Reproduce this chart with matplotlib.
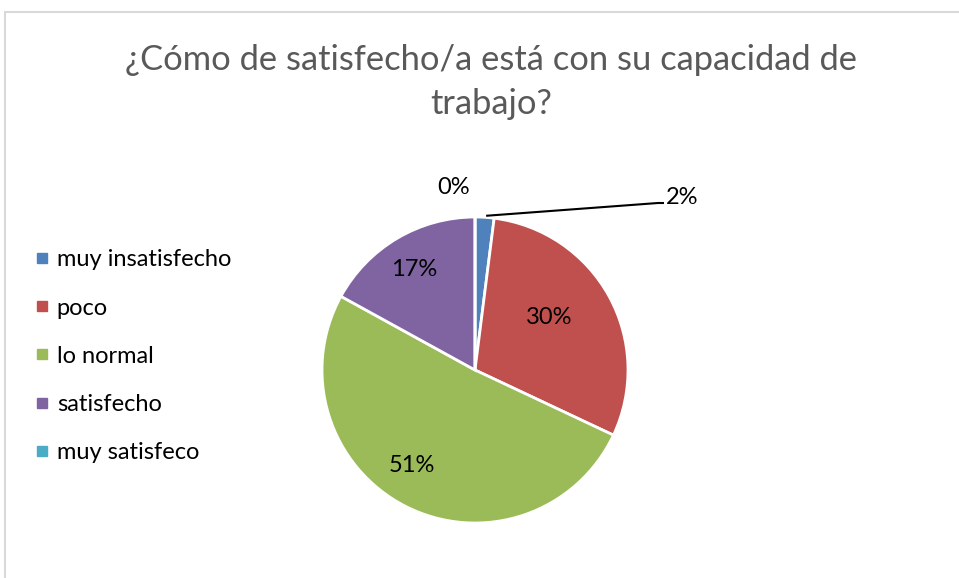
import numpy as np
import matplotlib.pyplot as plt
from matplotlib.lines import Line2D
from matplotlib.patches import Rectangle

# datos
categorias = ['muy insatisfecho', 'poco', 'lo normal', 'satisfecho', 'muy satisfeco']
porcentajes = [2, 30, 51, 17, 0]
colores = ['#4f81bd', '#c0504d', '#9bbb59', '#8064a2', '#4bacc6']
titulo = '¿Cómo de satisfecho/a está con su capacidad de\ntrabajo?'

plt.rcParams['font.family'] = ['Lato', 'DejaVu Sans']

W, H = 959, 578
fig = plt.figure(figsize=(W / 100, H / 100), dpi=100)
ax = fig.add_axes([0, 0, 1, 1])

# escala: 1 unidad = 153 px, centro del pastel en (475, 370) px
cx, cy, r_px = 475, 370, 153

ax.pie(porcentajes, colors=colores, startangle=90, counterclock=False,
       radius=1, center=(0, 0), frame=True,
       wedgeprops=dict(edgecolor='white', linewidth=2))
ax.set_xlim(-cx / r_px, (W - cx) / r_px)
ax.set_ylim(-(H - cy) / r_px, cy / r_px)
ax.set_aspect('equal')
ax.axis('off')

# etiquetas de datos (posición en px de la imagen)
pos_etiquetas = [(682, 197), (549, 317), (412, 466), (414, 270), (454, 188)]
for p, (px, py) in zip(porcentajes, pos_etiquetas):
    ax.text((px - cx) / r_px, (cy - py) / r_px, f'{p}%', ha='center', va='center',
            fontsize=17, color='#000000')

# línea guía para el 2%
ang = np.deg2rad(90 - 360 * porcentajes[0] / 200)
x0, y0 = np.cos(ang) * 1.0 + 0.01, np.sin(ang) * 1.0 + 0.01
x1, y1 = (658 - cx) / r_px, (cy - 203) / r_px
x2 = (664 - cx) / r_px
ax.plot([x0, x1, x2], [y0, y1, y1], color='black', linewidth=1.5, solid_capstyle='butt')

# título
fig.text(491 / W, 1 - 82 / H, titulo, ha='center', va='center', fontsize=24.8,
         color='#595959', linespacing=1.5)

# leyenda
handles = [Line2D([0], [0], marker='s', linestyle='none', markersize=7,
                  markerfacecolor=c, markeredgecolor=c) for c in colores]
fig.legend(handles, categorias, loc='upper left', bbox_to_anchor=(25 / W, 1 - 240 / H),
           frameon=False, fontsize=17, handlelength=0.6, handletextpad=0.35,
           labelspacing=1.15, borderaxespad=0)

# borde del gráfico
fig.patches.append(Rectangle((4.5 / W, -0.05), 1.2, 1 - 11.5 / H + 0.05,
                             transform=fig.transFigure, fill=False,
                             edgecolor='#d9d9d9', linewidth=1.5))

fig.savefig('out.png', dpi=100)
